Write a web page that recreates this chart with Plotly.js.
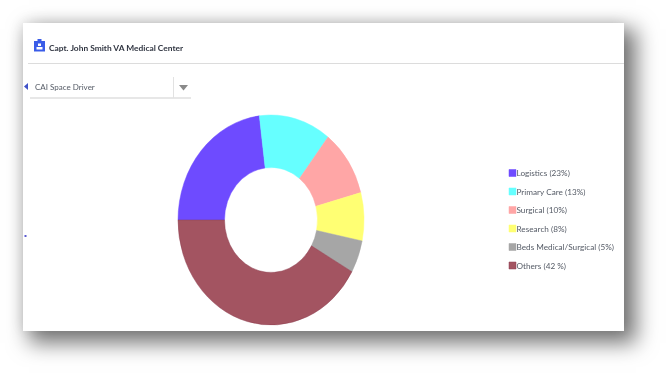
<!DOCTYPE html>
<html><head><meta charset="utf-8">
<script src="https://cdn.plot.ly/plotly-3.0.1.min.js"></script>
<style>
html,body{margin:0;padding:0;background:#fff;width:670px;height:377px;overflow:hidden}
#card{position:absolute;left:23px;top:23px;width:601px;height:308px;background:#fff;box-shadow:9px 9px 20px 3px rgba(0,0,0,.55),-2px -2px 12px rgba(0,0,0,.07)}
#chart{position:absolute;left:0;top:0;width:670px;height:377px;filter:blur(.4px)}
</style></head><body>
<div id="card"></div><div id="chart"></div>
<script>
const categories=["Logistics (23%)","Primary Care (13%)","Surgical (10%)","Research (8%)","Beds Medical/Surgical (5%)","Others (42 %)"];
const shares=[23,12.5,10.3,7.4,5,41.8];
const colors=["#6E4BFF","#66FFFF","#FFA6A6","#FFFF73","#A6A6A6","#A35461"];
const sliceEdges=["#6E4BFF","#66FFFF","#FFA6A6","#FFFF73","#A6A6A6","#8E3F50"];
const W=670,H=377,font="Lato,sans-serif";
const px=x=>x/W, py=y=>1-y/H;
const poly=(pts,fill)=>({type:"path",xref:"paper",yref:"paper",line:{width:0},fillcolor:fill,
  path:"M"+pts.map(p=>px(p[0])+","+py(p[1])).join("L")+"Z"});
const line=(x0,y0,x1,y1,c)=>({type:"line",xref:"paper",yref:"paper",x0:px(x0),y0:py(y0),x1:px(x1),y1:py(y1),line:{color:c,width:1}});
const shapes=[
 line(28,63.5,624,63.5,"#dcdcdc"),line(30,98,191,98,"#cfcfcf"),line(173.5,77,173.5,98,"#e2e2e2"),
 poly([[179,85],[188,85],[183.5,90.5]],"#8a8a8a"),
 poly([[28,83],[28,90],[24,86.5]],"#3f51c8"),
 poly([[24.5,235],[26.5,235],[26.5,237],[24.5,237]],"#5a5ad0"),
 poly([[34,41],[45,41],[45,51.5],[34,51.5]],"#3a5ce8"),
 poly([[37.5,39],[41.5,39],[41.5,42],[37.5,42]],"#3a5ce8"),
 poly([[38,43.5],[41,43.5],[41,46],[38,46]],"#ffffff"),
 poly([[36.5,47],[42.5,47],[42.5,49.5],[36.5,49.5]],"#ffffff")
];
const annotations=[
 {text:"<b>Capt. John Smith VA Medical Center</b>",x:px(46.5),y:py(48),xref:"paper",yref:"paper",xanchor:"left",yanchor:"middle",showarrow:false,font:{family:font,size:8.4,color:"#2f3440"}},
 {text:"CAI Space Driver",x:px(32.5),y:py(87),xref:"paper",yref:"paper",xanchor:"left",yanchor:"middle",showarrow:false,font:{family:font,size:8,color:"#555b66"}}
];
const trace={type:"pie",labels:categories,values:shares,sort:false,direction:"clockwise",rotation:270,hole:.5,
 textinfo:"none",hoverinfo:"label",marker:{colors:colors,line:{color:sliceEdges,width:.5}},
 domain:{x:[px(166),px(376)],y:[py(325),py(115)]}};
const layout={width:W,height:H,margin:{l:0,r:0,t:0,b:0},paper_bgcolor:"rgba(0,0,0,0)",plot_bgcolor:"rgba(0,0,0,0)",
 shapes:shapes,annotations:annotations,showlegend:true,
 legend:{x:px(492.5),y:py(160),xanchor:"left",yanchor:"top",font:{family:font,size:8.2,color:"#555b66"},bgcolor:"rgba(0,0,0,0)",itemclick:false,itemdoubleclick:false}};
Plotly.newPlot("chart",[trace],layout,{displayModeBar:false}).then(gd=>{
 // the reference pie is squeezed horizontally
 const cx=271,s=93/105;
 gd.querySelector(".pielayer").setAttribute("transform",`translate(${cx},0) scale(${s},1) translate(${-cx},0)`);
 gd.querySelectorAll(".legend .legendpoints path").forEach(p=>{p.setAttribute("d","M3.5,3.5H-3.5V-3.5H3.5Z");});
 gd.querySelectorAll(".legend .legendtext").forEach(t=>{t.setAttribute("x","24");});
 gd.querySelectorAll(".legend .traces").forEach((t,i)=>{
   const m=/translate\(([^,]+),/.exec(t.getAttribute("transform")||"");
   t.setAttribute("transform",`translate(${m?m[1]:0},${13+18.5*i})`);
 });
});
</script></body></html>
